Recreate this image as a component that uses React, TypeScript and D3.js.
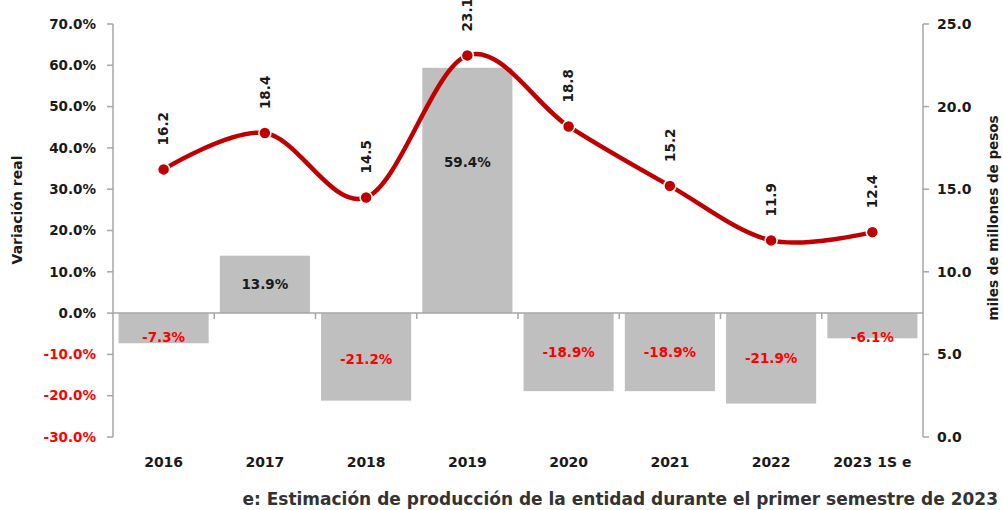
import React from "react";
import * as d3 from "d3";

const categories = ["2016", "2017", "2018", "2019", "2020", "2021", "2022", "2023 1S e"];
const variacion = [-7.3, 13.9, -21.2, 59.4, -18.9, -18.9, -21.9, -6.1];
const produccion = [16.2, 18.4, 14.5, 23.1, 18.8, 15.2, 11.9, 12.4];
const leftTicks = [-30, -20, -10, 0, 10, 20, 30, 40, 50, 60, 70];
const rightTicks = [0, 5, 10, 15, 20, 25];

const W = 1003;
const H = 510;
const FONT = "'DejaVu Sans', sans-serif";

export default function App() {
  const x0 = 113, x1 = 923, yTop = 24, yBot = 437;
  const x = d3.scaleBand<string>().domain(categories).range([x0, x1]).paddingInner(0.11).paddingOuter(0.055);
  const xb = d3.scaleBand<string>().domain(categories).range([x0, x1]);
  const yL = d3.scaleLinear().domain([-30, 70]).range([yBot, yTop]);
  const yR = d3.scaleLinear().domain([0, 25]).range([yBot, yTop]);
  const zero = yL(0);
  const cx = (c: string) => (xb(c) as number) + xb.bandwidth() / 2;

  const line = d3
    .line<number>()
    .x((_, i) => cx(categories[i]))
    .y((d) => yR(d))
    .curve(d3.curveCardinal.tension(0));

  const labelShift: Record<string, number> = { "2016": 9, "2018": 2, "2019": -28, "2023 1S e": 12 };
  const axisColor = "#A6A6A6";
  const textColor = "#1a1a1a";

  return (
    <svg width={W} height={H} style={{ position: "absolute", left: 0, top: 0 }} fontFamily={FONT}>
      <rect width={W} height={H} fill="#fff" />
      {/* bars */}
      {categories.map((c, i) => {
        const v = variacion[i];
        const y = Math.min(yL(v), zero);
        const h = Math.abs(yL(v) - zero);
        return <rect key={c} x={x(c)} y={y} width={x.bandwidth()} height={h} fill="#BFBFBF" />;
      })}
      {/* left axis */}
      <line x1={x0} x2={x0} y1={yTop} y2={yBot} stroke={axisColor} strokeWidth={1.5} />
      {leftTicks.map((t) => (
        <g key={t}>
          <line x1={x0 - 6} x2={x0} y1={yL(t)} y2={yL(t)} stroke={axisColor} strokeWidth={1.5} />
          <text x={96} y={yL(t)} dy="0.35em" textAnchor="end" fontSize={13.5} fontWeight="bold" fill={t < 0 ? "#FF0000" : textColor}>
            {t.toFixed(1) + "%"}
          </text>
        </g>
      ))}
      {/* right axis */}
      <line x1={x1} x2={x1} y1={yTop} y2={yBot} stroke={axisColor} strokeWidth={1.5} />
      {rightTicks.map((t) => (
        <g key={t}>
          <line x1={x1} x2={x1 + 6} y1={yR(t)} y2={yR(t)} stroke={axisColor} strokeWidth={1.5} />
          <text x={937} y={yR(t)} dy="0.35em" textAnchor="start" fontSize={14} fontWeight="bold" fill={textColor}>
            {t.toFixed(1)}
          </text>
        </g>
      ))}
      {/* category axis at zero */}
      <line x1={x0} x2={x1} y1={zero} y2={zero} stroke={axisColor} strokeWidth={1.5} />
      {categories.slice(1).map((c) => (
        <line key={c} x1={xb(c)} x2={xb(c)} y1={zero} y2={zero + 6} stroke={axisColor} strokeWidth={1.5} />
      ))}
      {categories.map((c) => (
        <text key={c} x={cx(c)} y={462} dy="0.35em" textAnchor="middle" fontSize={14} fontWeight="bold" fill={textColor}>
          {c}
        </text>
      ))}
      {/* bar labels */}
      {categories.map((c, i) => {
        const v = variacion[i];
        const mid = (yL(v) + zero) / 2 + (labelShift[c] || 0);
        return (
          <text key={c} x={cx(c)} y={mid} dy="0.35em" textAnchor="middle" fontSize={13.5} fontWeight="bold" fill={v < 0 ? "#FF0000" : textColor}>
            {v.toFixed(1) + "%"}
          </text>
        );
      })}
      {/* line */}
      <path d={line(produccion) || ""} fill="none" stroke="#C00000" strokeWidth={4.5} />
      {produccion.map((v, i) => (
        <circle key={i} cx={cx(categories[i])} cy={yR(v)} r={6} fill="#C00000" stroke="#fff" strokeWidth={1.5} />
      ))}
      {produccion.map((v, i) => {
        const px = cx(categories[i]);
        const py = yR(v) - 24;
        return (
          <text key={i} transform={`translate(${px},${py}) rotate(-90)`} dy="0.35em" textAnchor="start" fontSize={13.5} fontWeight="bold" fill={textColor}>
            {v.toFixed(1)}
          </text>
        );
      })}
      {/* axis titles */}
      <text transform={`translate(17,210) rotate(-90)`} dy="0.35em" textAnchor="middle" fontSize={14} fontWeight="bold" fill={textColor}>
        Variación real
      </text>
      <text transform={`translate(993,218) rotate(-90)`} dy="0.35em" textAnchor="middle" fontSize={13.5} fontWeight="bold" fill={textColor}>
        miles de millones de pesos
      </text>
      {/* footnote */}
      <text x={998} y={499} dy="0.35em" textAnchor="end" fontSize={17} fontWeight="bold" fill="#333">
        e: Estimación de producción de la entidad durante el primer semestre de 2023
      </text>
    </svg>
  );
}
